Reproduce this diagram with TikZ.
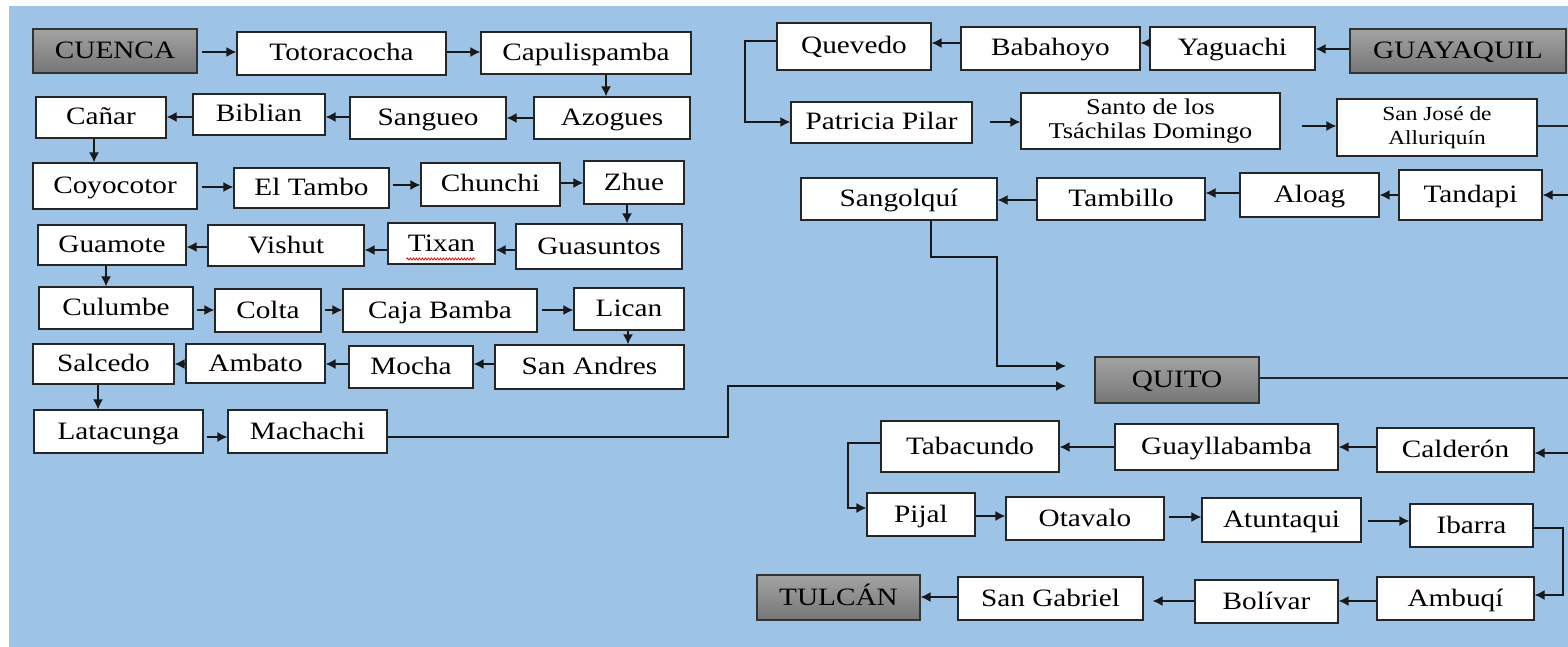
\documentclass[tikz,border=0pt]{standalone}
\usepackage{fontspec}
\setmainfont{Liberation Serif}[FakeStretch=1.17]
\usetikzlibrary{arrows.meta,decorations.pathmorphing}
\definecolor{bgblue}{HTML}{9DC3E6}
\definecolor{graytop}{HTML}{A3A3A3}
\definecolor{graybot}{HTML}{767676}
\begin{document}
\begin{tikzpicture}[x=1pt,y=-1pt,
  box/.style={draw=black!85, line width=1.3pt, fill=white, inner sep=0pt,
    text height=20pt, text depth=5pt, font=\fontsize{25}{28}\selectfont},
  city/.style={box, draw=black!80, top color=graytop, bottom color=graybot},
  mbox/.style={draw=black!85, line width=1.3pt, fill=white, inner sep=0pt, align=center},
  arr/.style={draw=black!90, line width=1.4pt, -{Latex[length=10pt,width=10pt]}},
  ln/.style={draw=black!85, line width=1.4pt}]
\useasboundingbox (0,0) rectangle (1568,647);
\fill[white] (0,0) rectangle (1568,647);
\fill[bgblue] (9,6) rectangle (1568,647);

% ---------- left block ----------
\node[city,minimum width=164pt,minimum height=44pt] (cuenca) at (115,51) {CUENCA};
\node[box,minimum width=209pt,minimum height=43pt] (toto) at (341.5,53.5) {Totoracocha};
\node[box,minimum width=210pt,minimum height=42pt] (capu) at (586,53) {Capulispamba};
\node[box,minimum width=156pt,minimum height=42pt] (azog) at (612,118) {Azogues};
\node[box,minimum width=156pt,minimum height=42pt] (sang) at (428,118) {Sangueo};
\node[box,minimum width=132pt,minimum height=41pt] (bibl) at (259,114.5) {Biblian};
\node[box,minimum width=130pt,minimum height=41pt] (canar) at (101,117.5) {Cañar};
\node[box,minimum width=164pt,minimum height=46pt] (coyo) at (115,186) {Coyocotor};
\node[box,minimum width=155pt,minimum height=40pt] (tambo) at (311.5,188) {El Tambo};
\node[box,minimum width=139pt,minimum height=43pt] (chun) at (490.5,184.5) {Chunchi};
\node[box,minimum width=100pt,minimum height=43pt] (zhue) at (634,182.5) {Zhue};
\node[box,minimum width=166pt,minimum height=45pt] (guas) at (599,246.5) {Guasuntos};
\node[box,minimum width=107pt,minimum height=41pt] (tixan) at (441.5,243.5) {Tixan};
\node[box,minimum width=156pt,minimum height=41pt] (vish) at (286,245.5) {Vishut};
\node[box,minimum width=148pt,minimum height=40pt] (guam) at (112,245) {Guamote};
\node[box,minimum width=154pt,minimum height=42pt] (culu) at (116,308) {Culumbe};
\node[box,minimum width=106pt,minimum height=43pt] (colta) at (268,310.5) {Colta};
\node[box,minimum width=194pt,minimum height=43pt] (caja) at (440,310.5) {Caja Bamba};
\node[box,minimum width=110pt,minimum height=42pt] (lican) at (629,309) {Lican};
\node[box,minimum width=189pt,minimum height=44pt] (sanand) at (589.5,367) {San Andres};
\node[box,minimum width=124pt,minimum height=42pt] (mocha) at (411,367) {Mocha};
\node[box,minimum width=139pt,minimum height=39pt] (amba) at (255.5,363.5) {Ambato};
\node[box,minimum width=141pt,minimum height=40pt] (salc) at (103.5,364) {Salcedo};
\node[box,minimum width=169pt,minimum height=43pt] (lata) at (118.5,431.5) {Latacunga};
\node[box,minimum width=159pt,minimum height=43pt] (mach) at (307.5,431.5) {Machachi};

\draw[red, line width=0.8pt, decorate, decoration={snake, amplitude=1pt, segment length=3pt}]
  ([xshift=-35pt,yshift=-15.5pt]tixan.center) -- ([xshift=34pt,yshift=-15.5pt]tixan.center);

\draw[arr, shorten <=4pt] (cuenca.east |- 0,52) -- (toto.west |- 0,52);
\draw[arr] (toto.east |- 0,52) -- (capu.west |- 0,52);
\draw[arr] (capu.south -| 606,0) -- (azog.north -| 606,0);
\draw[arr] (azog.west |- 0,118) -- (sang.east |- 0,118);
\draw[arr] (sang.west |- 0,117) -- (bibl.east |- 0,117);
\draw[arr] (bibl.west |- 0,117) -- (canar.east |- 0,117);
\draw[arr] (canar.south -| 94,0) -- (coyo.north -| 94,0);
\draw[arr, shorten <=4pt] (coyo.east |- 0,187) -- (tambo.west |- 0,187);
\draw[arr, shorten <=3pt] (tambo.east |- 0,185) -- (chun.west |- 0,185);
\draw[arr] (chun.east |- 0,183) -- (zhue.west |- 0,183);
\draw[arr] (zhue.south -| 627,0) -- (guas.north -| 627,0);
\draw[arr] (guas.west |- 0,250) -- (tixan.east |- 0,250);
\draw[arr] (tixan.west |- 0,250) -- (vish.east |- 0,250);
\draw[arr] (vish.west |- 0,247) -- (guam.east |- 0,247);
\draw[arr] (guam.south -| 106,0) -- (culu.north -| 106,0);
\draw[arr, shorten <=3pt] (culu.east |- 0,310) -- (colta.west |- 0,310);
\draw[arr, shorten <=3pt] (colta.east |- 0,310) -- (caja.west |- 0,310);
\draw[arr, shorten <=4pt] (caja.east |- 0,310) -- (lican.west |- 0,310);
\draw[arr] (lican.south -| 628,0) -- (sanand.north -| 628,0);
\draw[arr] (sanand.west |- 0,364) -- (mocha.east |- 0,364);
\draw[arr] (mocha.west |- 0,364) -- (amba.east |- 0,364);
\draw[arr] (amba.west |- 0,364) -- (salc.east |- 0,364);
\draw[arr] (salc.south -| 98,0) -- (lata.north -| 98,0);
\draw[arr, shorten <=3pt] (lata.east |- 0,437) -- (mach.west |- 0,437);

% ---------- right block ----------
\node[box,minimum width=154pt,minimum height=47pt] (quev) at (854,46.5) {Quevedo};
\node[box,minimum width=179pt,minimum height=43pt] (baba) at (1050.5,48.5) {Babahoyo};
\node[box,minimum width=165pt,minimum height=43pt] (yagu) at (1232.5,48.5) {Yaguachi};
\node[city,minimum width=216pt,minimum height=44pt] (guaya) at (1458,51) {GUAYAQUIL};
\node[box,minimum width=181pt,minimum height=41pt] (patr) at (881.5,122.5) {Patricia Pilar};
\node[mbox,minimum width=259pt,minimum height=56pt,font=\fontsize{22.5}{24}\selectfont] (santo) at (1150.5,121) {Santo de los\\Tsáchilas Domingo};
\node[mbox,minimum width=200pt,minimum height=57pt,font=\fontsize{20}{24}\selectfont] (sjose) at (1437,127.5) {San José de\\Alluriquín};
\node[box,minimum width=143pt,minimum height=50pt] (tand) at (1470.5,195) {Tandapi};
\node[box,minimum width=139pt,minimum height=44pt] (aloag) at (1309.5,195) {Aloag};
\node[box,minimum width=168pt,minimum height=42pt] (tamb) at (1121,199) {Tambillo};
\node[box,minimum width=196pt,minimum height=42pt] (sangq) at (899,199) {Sangolquí};

\node[city,minimum width=164pt,minimum height=46pt] (quito) at (1177,380) {QUITO};
\node[box,minimum width=178pt,minimum height=51pt] (taba) at (970,446.5) {Tabacundo};
\node[box,minimum width=223pt,minimum height=46pt] (guay) at (1226.5,447) {Guayllabamba};
\node[box,minimum width=157pt,minimum height=44pt] (cald) at (1455.5,450) {Calderón};
\node[box,minimum width=108pt,minimum height=43pt] (pijal) at (921,514.5) {Pijal};
\node[box,minimum width=158pt,minimum height=43pt] (otav) at (1085,518.5) {Otavalo};
\node[box,minimum width=159pt,minimum height=44pt] (atun) at (1281.5,520) {Atuntaqui};
\node[box,minimum width=123pt,minimum height=43pt] (ibar) at (1471.5,525.5) {Ibarra};
\node[box,minimum width=157pt,minimum height=43pt] (ambu) at (1455.5,598.5) {Ambuqí};
\node[box,minimum width=143pt,minimum height=43pt] (boli) at (1266.5,601.5) {Bolívar};
\node[box,minimum width=185pt,minimum height=43pt] (sgab) at (1050.5,598.5) {San Gabriel};
\node[city,minimum width=163pt,minimum height=45pt] (tulc) at (838.5,597.5) {TULCÁN};

\coordinate (qin1) at (1066,366);
\coordinate (qin2) at (1066,386);
\coordinate (eSJ) at (1570,126);
\coordinate (eTa) at (1570,195);
\coordinate (eQ) at (1570,378);
\coordinate (eCa) at (1570,453);

\draw[arr] (guaya.west |- 0,49) -- (yagu.east |- 0,49);
\draw[arr] (yagu.west |- 0,43) -- (baba.east |- 0,43);
\draw[arr] (baba.west |- 0,43) -- (quev.east |- 0,43);
\draw[arr] (quev.west |- 0,41) -- (745,41) -- (745,122) -- (patr.west |- 0,122);
\draw[arr, shorten <=17pt] (patr.east |- 0,122) -- (santo.west |- 0,122);
\draw[arr, shorten <=21pt] (santo.east |- 0,126) -- (sjose.west |- 0,126);
\draw[ln] (sjose.east |- 0,126) -- (eSJ);
\draw[arr] (eTa) -- (tand.east |- 0,195);
\draw[arr] (tand.west |- 0,195) -- (aloag.east |- 0,195);
\draw[arr] (aloag.west |- 0,193) -- (tamb.east |- 0,193);
\draw[arr] (tamb.west |- 0,200) -- (sangq.east |- 0,200);
\draw[arr] (sangq.south -| 931,0) -- (931,257) -- (997,257) -- (997,366) -- (qin1);
\draw[arr] (mach.east |- 0,437) -- (728,437) -- (728,386) -- (qin2);
\draw[ln] (quito.east |- 0,378) -- (eQ);
\draw[arr] (eCa) -- (cald.east |- 0,453);
\draw[arr] (cald.west |- 0,447) -- (guay.east |- 0,447);
\draw[arr] (guay.west |- 0,447) -- (taba.east |- 0,447);
\draw[arr] (taba.west |- 0,443) -- (848,443) -- (848,508) -- (pijal.west |- 0,508);
\draw[arr] (pijal.east |- 0,516) -- (otav.west |- 0,516);
\draw[arr, shorten <=4pt] (otav.east |- 0,517) -- (atun.west |- 0,517);
\draw[arr, shorten <=6pt] (atun.east |- 0,521) -- (ibar.west |- 0,521);
\draw[arr] (ibar.east |- 0,528) -- (1563,528) -- (1563,595) -- (ambu.east |- 0,595);
\draw[arr] (ambu.west |- 0,601) -- (boli.east |- 0,601);
\draw[arr, shorten >=9pt] (boli.west |- 0,601) -- (sgab.east |- 0,601);
\draw[arr] (sgab.west |- 0,597) -- (tulc.east |- 0,597);
\end{tikzpicture}
\end{document}
